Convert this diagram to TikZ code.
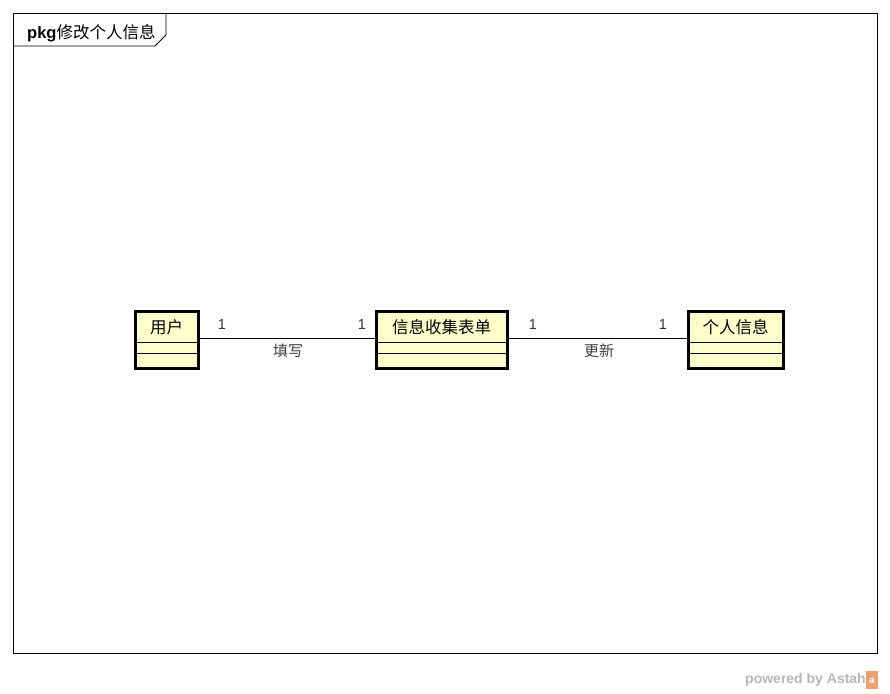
\documentclass[tikz,border=0pt]{standalone}
\usepackage{fontspec}
\setmainfont{Liberation Sans}
\newfontfamily\cjk{Noto Sans CJK SC}
\begin{document}
\begin{tikzpicture}[x=1pt,y=-1pt,
  classbox/.style={draw=black,line width=3pt,fill=classfill},
  sepline/.style={draw=black,line width=0.8pt},
  assoc/.style={draw=black,line width=0.9pt},
  mult/.style={font=\fontsize{14.5}{16}\selectfont,text=black!80,inner sep=0pt},
  assoclabel/.style={font=\cjk\fontsize{15}{17}\selectfont,text=black!75,inner sep=0pt},
  classname/.style={font=\cjk\fontsize{16.5}{18}\selectfont,inner sep=0pt}]
\definecolor{classfill}{HTML}{FFFFCC}
\definecolor{astahorange}{HTML}{F0A070}
\useasboundingbox (0,0) rectangle (890,693);
\fill[white] (0,0) rectangle (890,693);

% package frame with its name tab
\draw[line width=0.8pt] (13,13) rectangle (877,653);
\draw[line width=0.8pt] (13,46) -- (155,46) -- (166,35) -- (166,13);
\node[anchor=west,inner sep=0pt] (pkgname) at (27,33)
  {\fontsize{16.5}{18}\selectfont\textbf{pkg}\cjk 修改个人信息};

% classes
\path[classbox] (135,311) rectangle (198,368);
\draw[sepline] (135,342) -- (198,342);
\draw[sepline] (135,353) -- (198,353);
\coordinate (userR) at (198,338);
\node[classname] (user) at (166.5,327.5) {用户};

\path[classbox] (376,311) rectangle (507,368);
\draw[sepline] (376,342) -- (507,342);
\draw[sepline] (376,353) -- (507,353);
\coordinate (formL) at (376,338);
\coordinate (formR) at (507,338);
\node[classname] (form) at (441.5,327.5) {信息收集表单};

\path[classbox] (688,311) rectangle (783,368);
\draw[sepline] (688,342) -- (783,342);
\draw[sepline] (688,353) -- (783,353);
\coordinate (infoL) at (688,338);
\node[classname] (info) at (735.5,327.5) {个人信息};

% associations
\draw[assoc] (userR) -- (formL);
\draw[assoc] (formR) -- (infoL);
\node[mult] (m1) at (222,325) {1};
\node[mult] (m2) at (362,325) {1};
\node[mult] (m3) at (533,325) {1};
\node[mult] (m4) at (663,325) {1};
\node[assoclabel] (l1) at (288,351) {填写};
\node[assoclabel] (l2) at (599,351) {更新};

% footer
\node[anchor=east,inner sep=0pt,text=black!28,font=\bfseries\fontsize{14}{16}\selectfont] (powered) at (866,680) {powered by Astah};
\fill[astahorange] (866,671) rectangle (878,689);
\node[inner sep=0pt,text=white,font=\bfseries\fontsize{10}{11}\selectfont] (logo) at (872,681) {a};
\end{tikzpicture}
\end{document}
